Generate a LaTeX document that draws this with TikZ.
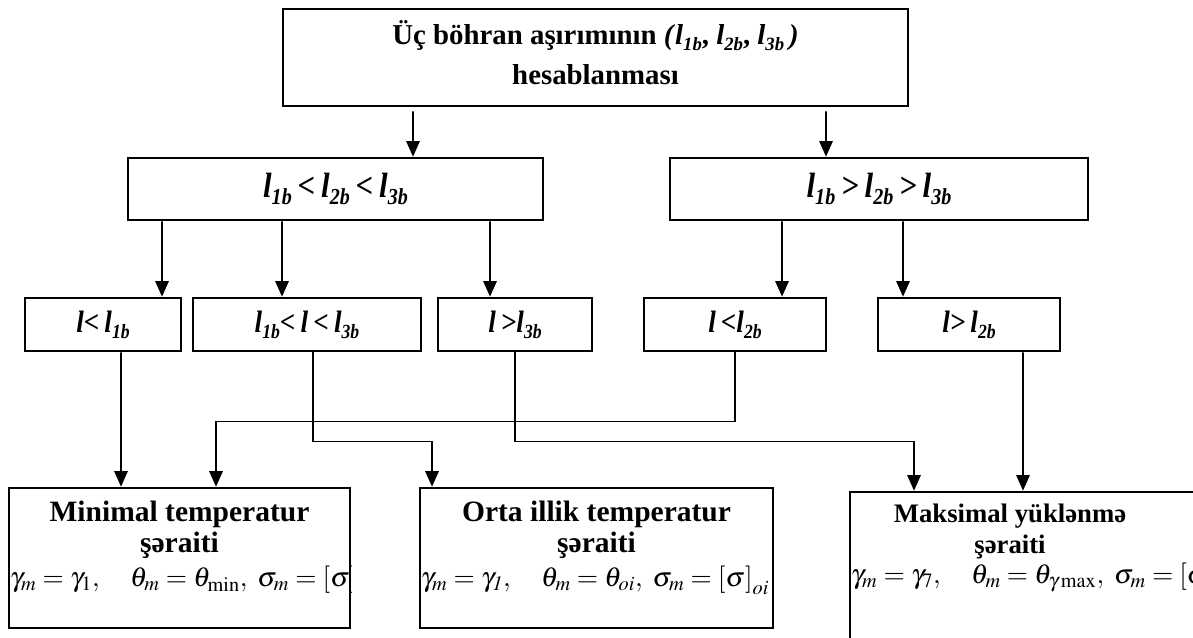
\documentclass[tikz,border=0pt]{standalone}
\usepackage{mathptmx}
\usepackage{graphicx}
\usepackage{fontspec}
\setmainfont{Liberation Serif}
\newfontfamily\lblfont[FakeStretch=0.88]{Liberation Serif}
\usetikzlibrary{arrows.meta,positioning,calc}

\newcommand{\lb}[1]{\textit{l}\raisebox{-0.2em}{\scalebox{0.65}{\textit{#1}}}}

\tikzset{
  box/.style={draw, line width=1.9pt, inner sep=2pt},
  conn/.style={line width=1.1pt},
  arr/.style={conn, -{Triangle[width=9.5pt,length=11pt]}},
  lbl/.style={font=\lblfont\fontsize{25}{30}\selectfont\bfseries\itshape},
  case/.style={font=\lblfont\fontsize{22}{26}\selectfont\bfseries\itshape},
  ttl/.style={font=\fontsize{21}{22}\selectfont\bfseries, align=center, inner sep=0pt},
  frm/.style={font=\fontsize{19.5}{24}\selectfont, inner sep=0pt, anchor=base west},
}

\begin{document}
\begin{tikzpicture}
  \useasboundingbox (0,0) rectangle (29.825,-15.925);
  \fill[white] (0,0) rectangle (29.825,-15.925);
  \clip (0,0) rectangle (29.825,-15.925);

  % top
  \node[box, minimum width=15.625cm, minimum height=2.425cm, align=center,
        font=\fontsize{20.5}{28.5}\selectfont\bfseries] (top) at (14.8875,-1.4375)
       {Üç böhran aşırımının \textit{(}\lb{1b}, \lb{2b}, \lb{3b}\,\textit{)}\\hesablanması\rule[-7pt]{0pt}{7pt}};

  % two orderings
  \node[box, lbl, minimum width=10.375cm, minimum height=1.55cm] (midL) at (8.3875,-4.725)
       {\lb{1b}\,<\,\lb{2b}\,<\,\lb{3b}};
  \node[box, lbl, minimum width=10.45cm, minimum height=1.55cm] (midR) at (21.975,-4.725)
       {\lb{1b}\,>\,\lb{2b}\,>\,\lb{3b}};

  % cases for l
  \node[box, case, minimum width=3.9cm, minimum height=1.325cm] (lt1) at (2.575,-8.1125) {l<\,\lb{1b}};
  \node[box, case, minimum width=5.7cm, minimum height=1.325cm] (mid13) at (7.675,-8.1125) {\lb{1b}<\,l\,<\,\lb{3b}};
  \node[box, case, minimum width=3.85cm, minimum height=1.325cm] (gt3) at (12.875,-8.1125) {l\,>\lb{3b}};
  \node[box, case, minimum width=4.55cm, minimum height=1.325cm] (lt2) at (18.375,-8.1125) {l\,<\lb{2b}};
  \node[box, case, minimum width=4.55cm, minimum height=1.325cm] (gt2) at (24.225,-8.1125) {l>\,\lb{2b}};

  % conditions
  \node[box, minimum width=8.525cm, minimum height=3.5cm] (minT) at (4.4875,-13.95) {};
  \node[box, minimum width=8.825cm, minimum height=3.5cm] (ortaT) at (14.9125,-13.95) {};
  \node[box, minimum width=9.75cm, minimum height=4.7cm] (maxT) at (26.125,-14.65) {};

  \node[ttl, anchor=base] (minTitle) at ([yshift=-1.65cm]minT.north) {Minimal temperatur\\şəraiti};
  \node[ttl, anchor=base] (ortaTitle) at ([yshift=-1.65cm]ortaT.north) {Orta illik temperatur\\şəraiti};
  \node[ttl, anchor=base, font=\fontsize{19}{22.5}\selectfont\bfseries] (maxTitle)
       at ([xshift=-0.875cm,yshift=-1.575cm]maxT.north) {Maksimal yüklənmə\\şəraiti};

  \begin{scope}
    \clip (minT.south west) rectangle (minT.north east);
    \node[frm] (minF) at ([xshift=0.05cm,yshift=-2.5cm]minT.north west)
         {$\gamma_m=\gamma_1,\quad \theta_m=\theta_{\min},\ \sigma_m=\left[\sigma\right]_{\min}$};
  \end{scope}
  \node[frm] (ortaF) at ([xshift=0.05cm,yshift=-2.5cm]ortaT.north west)
       {$\gamma_m=\gamma_{\mathit{1}},\quad \theta_m=\theta_{oi},\ \sigma_m=\left[\sigma\right]_{oi}$};
  \node[frm] (maxF) at ([xshift=0.05cm,yshift=-2.325cm]maxT.north west)
       {$\gamma_m=\gamma_7,\quad \theta_m=\theta_{\gamma\max},\ \sigma_m=\left[\sigma\right]_{\gamma\max}$};

  % arrows
  \draw[arr] ([xshift=-4.5625cm,yshift=-0.1cm]top.south) -- ([xshift=1.9375cm]midL.north);
  \draw[arr] ([xshift=5.7625cm,yshift=-0.1cm]top.south) -- ([xshift=-1.325cm]midR.north);

  \draw[arr] ([xshift=-4.3375cm]midL.south) -- ([xshift=1.475cm]lt1.north);
  \draw[arr] ([xshift=-1.3375cm]midL.south) -- ([xshift=-0.625cm]mid13.north);
  \draw[arr] ([xshift=3.8625cm]midL.south) -- ([xshift=-0.625cm]gt3.north);
  \draw[arr] ([xshift=-2.425cm]midR.south) -- ([xshift=1.175cm]lt2.north);
  \draw[arr] ([xshift=0.6cm]midR.south) -- ([xshift=-1.65cm]gt2.north);

  \draw[arr] ([xshift=0.45cm]lt1.south) -- ([xshift=-1.4625cm]minT.north);
  \draw[arr] (lt2.south) -- ++(0,-1.725) -| ([xshift=0.9125cm]minT.north);
  \draw[arr] ([xshift=0.15cm]mid13.south) -- ++(0,-2.225) -| ([xshift=-4.1125cm]ortaT.north);
  \draw[arr] (gt3.south) -- ++(0,-2.225) -| ([xshift=-3.275cm]maxT.north);
  \draw[arr] ([xshift=1.35cm]gt2.south) -- ([xshift=-0.55cm]maxT.north);
\end{tikzpicture}
\end{document}
